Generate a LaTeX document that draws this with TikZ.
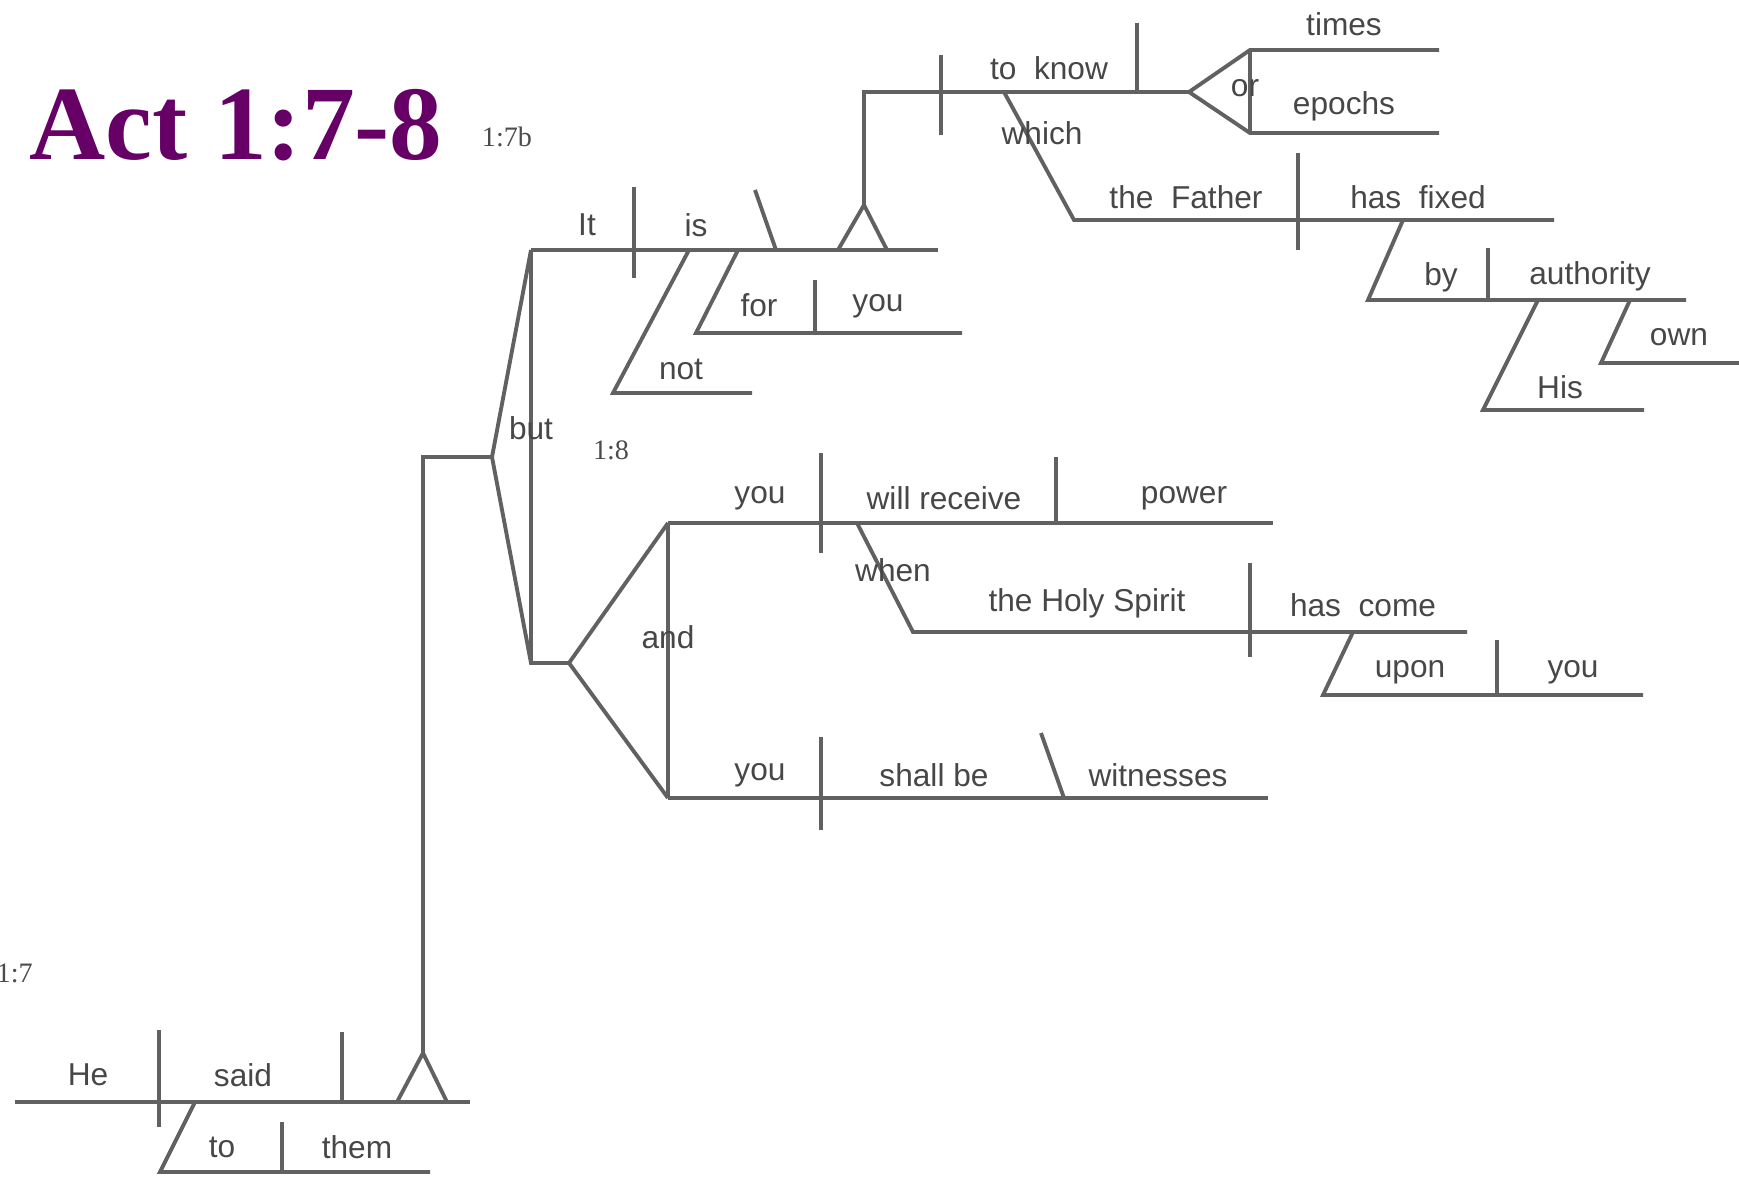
\documentclass[tikz,border=0pt]{standalone}
\usepackage{fontspec}
\setmainfont{Liberation Serif}
\newfontfamily\wordfont{Liberation Sans}
\usepackage{tikz}
\definecolor{actpurple}{RGB}{102,0,102}
\newcommand*{\WordList}[1]{% #1 = list of name/x/y/text
\foreach \n/\x/\y/\txt in {#1} {
\node [word] (\n) at (\x,\y) {\txt};
}%
}
\tikzset{
  rk/.style={draw=black!62, line width=1.1pt},
  word/.style={font=\wordfont\fontsize{9}{10}\selectfont, text=black!72, inner sep=0pt},
  verse/.style={font=\fontsize{8}{9}\selectfont, text=black!70, inner sep=0pt}
}

\begin{document}
\begin{tikzpicture}[x=0.01cm, y=-0.01cm]
            \useasboundingbox (0,0) rectangle (1739,1182);
            \node [font=\bfseries\fontsize{30}{32}\selectfont, text=actpurple, anchor=base west, inner sep=0pt] (title) at (29,160) {Act 1:7-8};
            \node [verse] (v7b) at (507,137) {1:7b};
            \node [verse] (v8) at (611,450) {1:8};
            \node [verse, anchor=west] (v7) at (-4,973) {1:7};

            % 1:7
            \draw [rk] (15,1102) -- (470,1102);
            \draw [rk] (159,1030) -- (159,1127);
            \draw [rk] (342,1032) -- (342,1102);
            \draw [rk] (397,1102) -- (423,1053) -- (447,1102);
            \draw [rk] (423,1053) -- (423,457) -- (492,457);
            \draw [rk] (195,1102) -- (160,1172) -- (430,1172);
            \draw [rk] (282,1122) -- (282,1172);
            \WordList{he/88/1075/He, said/243/1075/said, to/222/1147/to, them/357/1147/them}

            % but
            \draw [rk] (531,250) -- (492,457) -- (531,663) -- (569,663);
            \draw [rk] (531,250) -- (531,663);
            \WordList{but/531/428/but}

            % 1:7b
            \draw [rk] (531,250) -- (938,250);
            \draw [rk] (634,187) -- (634,278);
            \draw [rk] (755,190) -- (776,250);
            \draw [rk] (838,250) -- (864,205) -- (887,250);
            \draw [rk] (864,205) -- (864,92) -- (1189,92);
            \draw [rk] (941,55) -- (941,135);
            \draw [rk] (1137,23) -- (1137,92);
            \draw [rk] (1439,50) -- (1250,50) -- (1189,92) -- (1250,133) -- (1439,133);
            \draw [rk] (1250,50) -- (1250,133);
            \draw [rk] (1004,92) -- (1074,220) -- (1554,220);
            \draw [rk] (1298,153) -- (1298,250);
            \draw [rk] (1403,220) -- (1368,300) -- (1686,300);
            \draw [rk] (1488,248) -- (1488,300);
            \draw [rk] (1538,300) -- (1483,410) -- (1644,410);
            \draw [rk] (1630,300) -- (1601,363) -- (1739,363);
            \draw [rk] (689,250) -- (613,393) -- (752,393);
            \draw [rk] (738,250) -- (696,333) -- (962,333);
            \draw [rk] (815,280) -- (815,333);
            \WordList{it/587/225/It, is/696/225/is, know/1049/68/to\ \ know, times/1344/24/times, or/1245/88/or, epochs/1344/106/epochs, which/1042/133/which, father/1186/197/the\ \ Father, fixed/1418/197/has\ \ fixed, by/1441/277/by, authority/1590/276/authority, his/1560/387/His, own/1679/337/own, not/681/369/not, for/759/305/for, youa/878/306/you}

            % 1:8
            \draw [rk] (668,523) -- (569,663) -- (668,798);
            \draw [rk] (668,523) -- (668,798);
            \draw [rk] (668,523) -- (1273,523);
            \draw [rk] (821,453) -- (821,553);
            \draw [rk] (1056,457) -- (1056,523);
            \draw [rk] (857,523) -- (913,632) -- (1467,632);
            \draw [rk] (1250,563) -- (1250,657);
            \draw [rk] (1353,632) -- (1323,695) -- (1643,695);
            \draw [rk] (1497,640) -- (1497,695);
            \draw [rk] (668,798) -- (1268,798);
            \draw [rk] (821,737) -- (821,830);
            \draw [rk] (1041,733) -- (1064,798);
            \WordList{and/668/637/and, youb/760/498/you, receive/944/498/will receive, power/1184/498/power, when/893/570/when, spirit/1087/603/the Holy Spirit, come/1363/605/has\ \ come, upon/1410/672/upon, youc/1573/672/you, youd/760/775/you, shall/934/775/shall be, witnesses/1158/775/witnesses}
        \end{tikzpicture}
\end{document}
